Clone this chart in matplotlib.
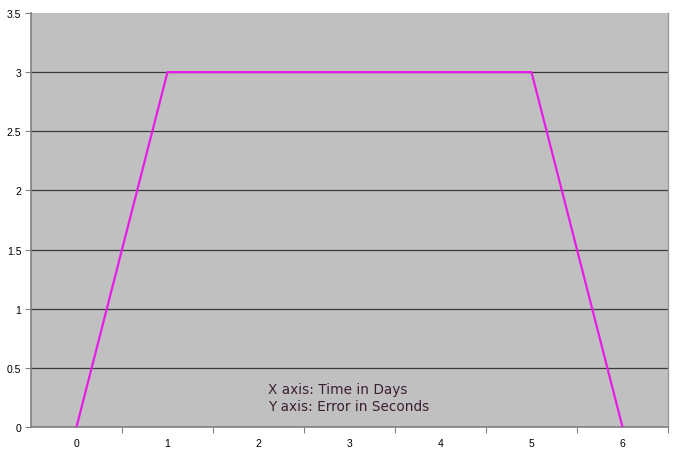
import matplotlib
matplotlib.use("Agg")
import matplotlib.pyplot as plt
from matplotlib.ticker import NullFormatter

days = [0, 1, 2, 3, 4, 5, 6]
error_seconds = [0, 3, 3, 3, 3, 3, 0]
x_labels = ["0", "1", "2", "3", "4", "5", "6"]
y_ticks = [0, 0.5, 1, 1.5, 2, 2.5, 3, 3.5]
y_labels = ["0", "0.5", "1", "1.5", "2", "2.5", "3", "3.5"]

fig = plt.figure(figsize=(6.75, 4.6), dpi=100)
ax = fig.add_axes([31/675, 1-428/460, (668-31)/675, (428-14)/460])
ax.set_facecolor("#C0C0C0")

ax.plot(days, error_seconds, color="#E81CE8", lw=1.6, zorder=3)

ax.set_xlim(-0.5, 6.5)
ax.set_ylim(0, 3.5)

ax.set_yticks(y_ticks)
ax.set_yticklabels(y_labels, fontsize=7.5, family="Liberation Sans")
ax.yaxis.grid(True, color="#3a3a3a", lw=0.9)
ax.set_axisbelow(True)

ax.set_xticks([d + 0.5 for d in days])
ax.xaxis.set_major_formatter(NullFormatter())
ax.set_xticks(days, minor=True)
ax.set_xticklabels(x_labels, minor=True, fontsize=7.5, family="Liberation Sans")
ax.tick_params(axis="x", which="minor", length=0, pad=8)
ax.tick_params(axis="x", which="major", length=4, color="#808080", direction="out")
ax.tick_params(axis="y", length=4, color="#808080", direction="out", pad=3)

for s in ["left", "bottom"]:
    ax.spines[s].set_color("#808080")
    ax.spines[s].set_linewidth(1.2)
ax.spines["top"].set_visible(False)
ax.spines["right"].set_color("#9a9a9a")
ax.spines["right"].set_linewidth(1.0)

fig.canvas.draw()
gl = ax.get_ygridlines()
gl[0].set_visible(False)
gl[-1].set_visible(False)

fig.text(268/675, 1-398.5/460, "X axis: Time in Days\nY axis: Error in Seconds",
         fontsize=9.85, color="#3A1F33", family="DejaVu Sans", va="center", ha="left",
         linespacing=1.2)

fig.savefig("out.png", dpi=100, facecolor="white")
